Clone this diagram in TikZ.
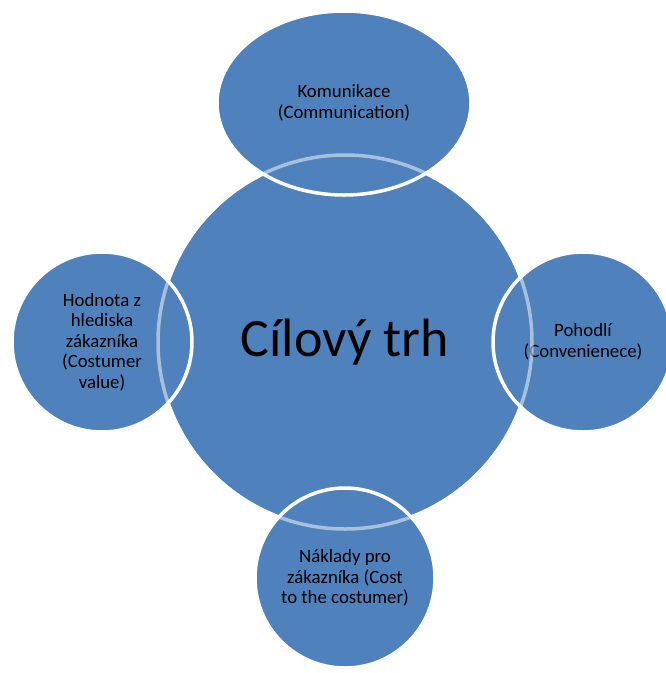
\documentclass[tikz,border=0pt]{standalone}
\usepackage{fontspec}
\setmainfont{Carlito}
\usetikzlibrary{shapes.geometric}
\definecolor{segblue}{HTML}{4F81BD}

\begin{document}
\begin{tikzpicture}[x=1pt,y=-1pt,
  blob/.style={fill=segblue, draw=white, line width=3.5pt, inner sep=0pt, align=center, font=\fontsize{18.8}{20.5}\selectfont},
  hub/.style={blob, circle, minimum size=374pt, font=\fontsize{54}{60}\selectfont},
  side/.style={blob, circle, minimum size=180pt}]
\useasboundingbox (0,0) rectangle (666,673);
\node[hub] (trh) at (345,342) {Cílový trh};
\node[blob, ellipse, minimum width=254pt, minimum height=184pt] (kom) at (344,103) {Komunikace\\(Communication)};
\node[side] (hod) at (102,342) {Hodnota z\\hlediska\\zákazníka\\(Costumer\\value)};
\node[side] (poh) at (583,342) {Pohodlí\\(Convenienece)};
\node[side] (nak) at (345,578) {Náklady pro\\zákazníka (Cost\\to the costumer)};
% faint rim of the target circle seen through the others
\node[hub, fill=none, draw opacity=0.5] at (trh) {};
\end{tikzpicture}
\end{document}
